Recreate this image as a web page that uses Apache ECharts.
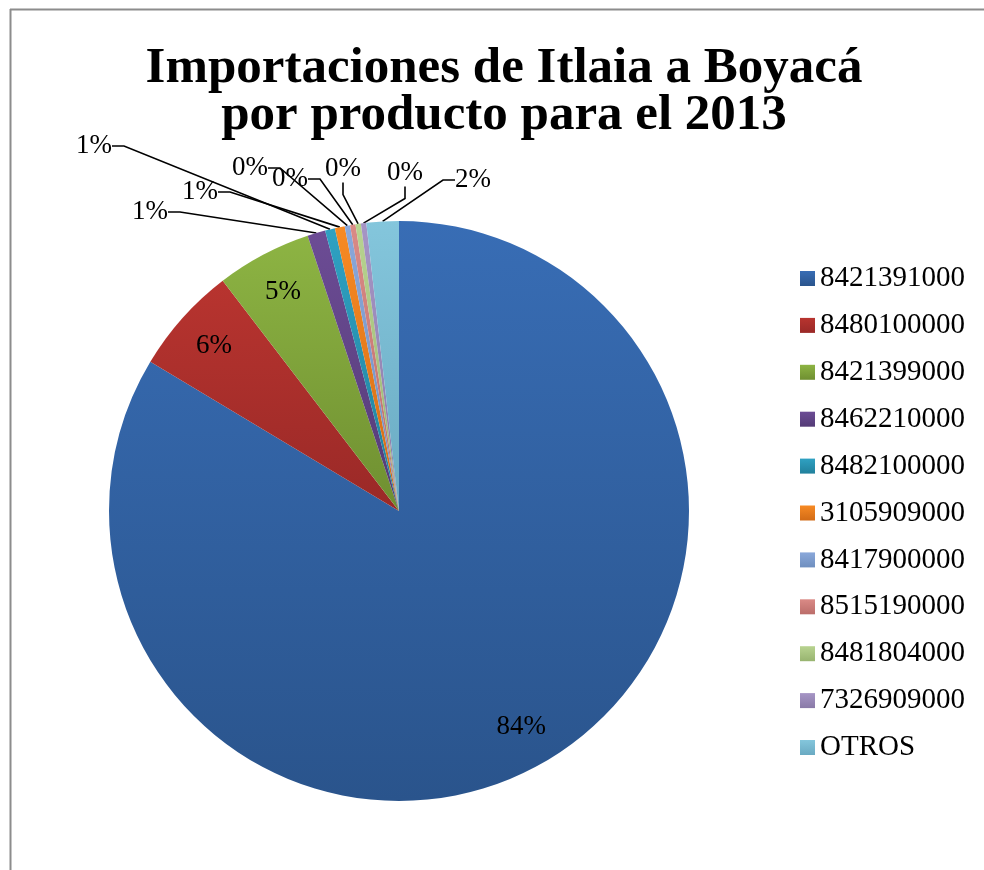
<!DOCTYPE html>
<html>
<head>
<meta charset="utf-8">
<script src="https://cdn.jsdelivr.net/npm/echarts@6/dist/echarts.min.js"></script>
<style>
html,body{margin:0;padding:0;background:#fff;}
#chart{width:984px;height:870px;}
</style>
</head>
<body>
<div id="chart"></div>
<script>
// ---- data ----
const titleText = 'Importaciones de Itlaia a Boyacá\npor producto para el 2013';
const categories = ['8421391000','8480100000','8421399000','8462210000','8482100000','3105909000','8417900000','8515190000','8481804000','7326909000','OTROS'];
const values = [83.6, 6.0, 5.3, 1.0, 0.55, 0.55, 0.3, 0.3, 0.3, 0.3, 1.8];

// ---- styles / layout ----
const topColors = ['#386db5','#b8342f','#8db443','#6c4c95','#2fa1c2','#f78a24','#8aa8da','#da8a86','#b8d390','#a695c5','#84c6dc'];
const botColors = ['#2a548c','#9a2927','#6f8f31','#543b76','#21809c','#d26b16','#6f8fbf','#bb6d6a','#98b470','#897aa7','#6aaac2'];
const insideCount = 3;
// placement of the outside percentage labels (label centres), as in the original layout
const outsideLabelPos = {3:[150,212],4:[94,146],5:[200,192],6:[250,168],7:[290,179],8:[343,169],9:[405,173],10:[473,180]};

const serif = '"Liberation Serif","DejaVu Serif",serif';

function grad(i){
  return new echarts.graphic.LinearGradient(0,0,0,1,[
    {offset:0,color:topColors[i]},{offset:1,color:botColors[i]}
  ]);
}
function pct(p){ return Math.round(p.percent) + '%'; }

const mainData = categories.map((c,i)=>({
  name:c, value:values[i],
  itemStyle:{color:grad(i)},
  label:{show: i >= insideCount},
  labelLine:{show: i >= insideCount}
}));
const ringData = categories.map((c,i)=>({
  name:c, value:values[i],
  label:{show: i < insideCount}
}));

const chart = echarts.init(document.getElementById('chart'), null, {renderer:'canvas'});
chart.setOption({
  animation:false,
  backgroundColor:'#fff',
  title:{
    text:titleText,
    left:504, top:45, textAlign:'center', padding:0,
    textStyle:{fontFamily:serif, fontWeight:'bold', fontSize:51, lineHeight:47, color:'#000'}
  },
  legend:{
    orient:'vertical', left:795, top:259,
    itemWidth:15, itemHeight:15, itemGap:17.9,
    icon:'rect',
    data:categories,
    textStyle:{fontFamily:serif, fontSize:29, color:'#000'}
  },
  graphic:[
    {type:'line', shape:{x1:10,y1:9.5,x2:984,y2:9.5}, style:{stroke:'#8c8c8c',lineWidth:2}},
    {type:'line', shape:{x1:10.5,y1:9,x2:10.5,y2:870}, style:{stroke:'#8c8c8c',lineWidth:2}}
  ],
  series:[
    {
      type:'pie', center:[399,511], radius:[0,290],
      startAngle:90, clockwise:true,
      data:mainData,
      itemStyle:{borderWidth:0},
      label:{position:'outside', formatter:pct, fontFamily:serif, fontSize:27, color:'#000'},
      labelLine:{length:30, length2:12, lineStyle:{color:'#000', width:1.6}},
      labelLayout:function(p){
        const pos = outsideLabelPos[p.dataIndex];
        if(!pos) return {};
        return {x:pos[0], y:pos[1], align:'center', verticalAlign:'middle'};
      }
    },
    {
      type:'pie', center:[399,511], radius:[200,290],
      startAngle:90, clockwise:true, silent:true,
      legendHoverLink:false,
      data:ringData,
      itemStyle:{color:'rgba(0,0,0,0)', borderWidth:0},
      label:{position:'inside', formatter:pct, fontFamily:serif, fontSize:27, color:'#000'},
      labelLine:{show:false}
    }
  ]
});
</script>
</body>
</html>
